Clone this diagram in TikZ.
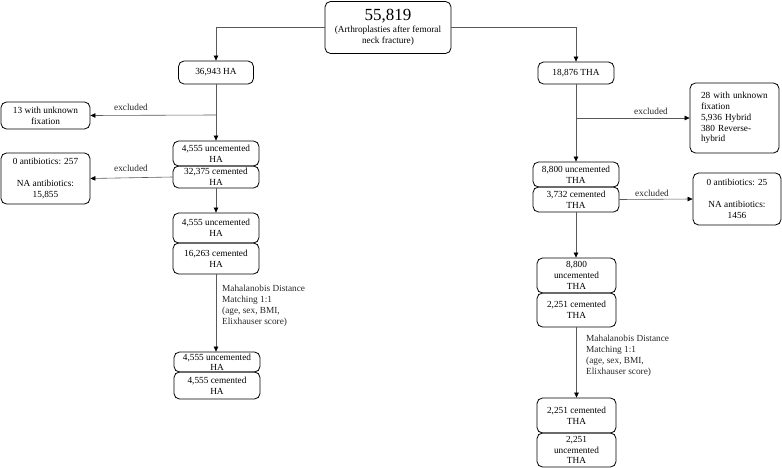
\documentclass[tikz,border=0pt]{standalone}
\usepackage{fontspec}
\setmainfont{Liberation Serif}
\usetikzlibrary{arrows.meta}
\begin{document}
\begin{tikzpicture}[x=1pt,y=-1pt,
  box/.style={draw=black,line width=0.8pt,rounded corners=5.5pt,align=center,
    inner sep=1pt,font=\fontsize{9.3}{10.8}\selectfont},
  conn/.style={draw=black!65,line width=0.6pt},
  arr/.style={conn,-{Triangle[length=5pt,width=4.5pt,color=black]}},
  lab/.style={font=\fontsize{9.3}{10.8}\selectfont,inner sep=0pt,text=black!85}]
\useasboundingbox (0,0) rectangle (782,468);
% top
\node[box,minimum width=126pt,minimum height=52pt] (top) at (388,27.5)
  {{\fontsize{17}{17}\selectfont 55,819}\\[1pt](Arthroplasties after femoral\\neck fracture)};
% HA column
\node[box,minimum width=75pt,minimum height=23pt] (ha) at (216,72.5) {36,943 HA};
\node[box,minimum width=89pt,minimum height=27pt] (unk) at (45.5,115.5) {13 with unknown\\fixation};
\node[box,minimum width=86pt,minimum height=25pt] (unc1) at (216,153.5) {4,555 uncemented\\HA};
\node[box,minimum width=86pt,minimum height=22pt] (cem1) at (216,177) {32,375 cemented\\HA};
\node[box,minimum width=89pt,minimum height=51pt] (ab1) at (45.5,178.5) {0 antibiotics: 257\\[10.8pt]NA antibiotics:\\15,855};
\node[box,minimum width=86pt,minimum height=30pt] (unc2) at (216,228) {4,555 uncemented\\HA};
\node[box,minimum width=86pt,minimum height=31pt] (cem2) at (216,258.5) {16,263 cemented\\HA};
\node[box,minimum width=86pt,minimum height=20pt,inner ysep=0pt,font=\fontsize{9.3}{9.6}\selectfont] (unc3) at (217,362) {4,555 uncemented\\HA};
\node[box,minimum width=86pt,minimum height=27pt] (cem3) at (217,385.5) {4,555 cemented\\HA};
% THA column
\node[box,minimum width=76pt,minimum height=22pt] (tha) at (576,73) {18,876 THA};
\node[box,minimum height=70pt,text width=67pt,inner xsep=11pt,align=left] (exc) at (734.5,118)
  {28 with unknown\\fixation\\5,936 Hybrid\\380 Reverse-\\hybrid};
\node[box,minimum width=86pt,minimum height=25pt] (unc4) at (576,174.5) {8,800 uncemented\\THA};
\node[box,minimum width=86pt,minimum height=25pt] (cem4) at (576,199.5) {3,732 cemented\\THA};
\node[box,minimum width=88pt,minimum height=52pt] (ab2) at (737,199) {0 antibiotics: 25\\[10.8pt]NA antibiotics:\\1456};
\node[box,minimum width=79pt,minimum height=35pt] (unc5) at (576.5,275.5) {8,800\\uncemented\\THA};
\node[box,minimum width=79pt,minimum height=34pt] (cem5) at (576.5,310) {2,251 cemented\\THA};
\node[box,minimum width=79pt,minimum height=35pt] (cem6) at (576.5,415.5) {2,251 cemented\\THA};
\node[box,minimum width=79pt,minimum height=34pt] (unc6) at (576.5,450) {2,251\\uncemented\\THA};
% connectors
\draw[arr] (top.west) -| (ha.north);
\draw[arr] (top.east) -| (tha.north);
\coordinate (b1) at (216,115);
\draw[arr] (ha.south) -- (unc1.north);
\draw[arr] (b1) -- (unk.east);
\node[lab] (ex1) at (131,107) {excluded};
\draw[arr] (cem1.west) -- (ab1.east);
\node[lab] (ex2) at (131,168) {excluded};
\draw[arr] (cem1.south) -- (unc2.north);
\draw[arr] (cem2.south) -- (cem2.south |- unc3.north);
\node[lab,anchor=north west,align=left] (m1) at (222,285)
  {Mahalanobis Distance\\Matching 1:1\\(age, sex, BMI,\\Elixhauser score)};
\coordinate (b2) at (576,118);
\draw[arr] (tha.south) -- (unc4.north);
\draw[arr] (b2) -- (exc.west);
\node[lab] (ex3) at (651,111) {excluded};
\draw[arr] (cem4.east) -- (ab2.west);
\node[lab] (ex4) at (652,193) {excluded};
\draw[arr] (cem4.south) -- (cem4.south |- unc5.north);
\draw[arr] (cem5.south) -- (cem6.north);
\node[lab,anchor=north west,align=left] (m2) at (586,335)
  {Mahalanobis Distance\\Matching 1:1\\(age, sex, BMI,\\Elixhauser score)};
\end{tikzpicture}
\end{document}
